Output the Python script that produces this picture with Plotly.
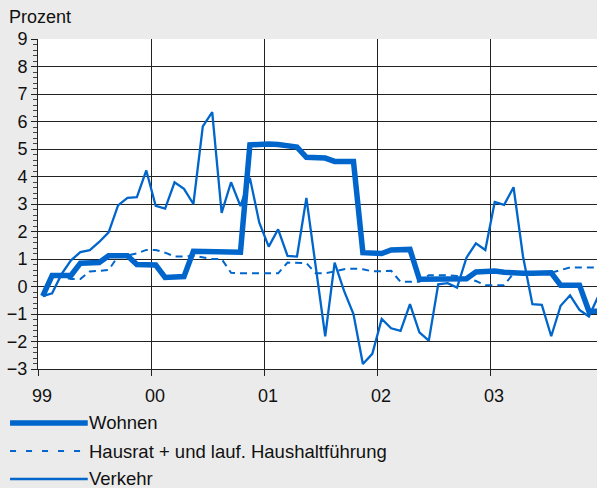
import plotly.graph_objects as go

# Monthly values, Jan 1999 - Dec 2003 (Prozent)
months = [i + 0.5 for i in range(60)]

wohnen = [-0.35, 0.4, 0.4, 0.4, 0.85, 0.85, 0.87, 1.12, 1.13, 1.12,
          0.8, 0.8, 0.78, 0.33, 0.33, 0.36, 1.28, 1.27, 1.26, 1.29,
          1.25, 1.25, 5.15, 5.17, 5.18, 5.16, 5.1, 5.07, 4.7, 4.7,
          4.67, 4.55, 4.55, 4.55, 1.23, 1.22, 1.2, 1.33, 1.35, 1.35,
          0.26, 0.26, 0.26, 0.26, 0.26, 0.28, 0.53, 0.55, 0.56, 0.52,
          0.48, 0.48, 0.48, 0.5, 0.5, 0.05, 0.05, 0.05, -0.9, -0.9]

hausrat = [-0.3, 0.35, 0.35, 0.27, 0.27, 0.55, 0.57, 0.6, 1.1, 1.13,
           1.2, 1.33, 1.33, 1.23, 1.09, 1.09, 1.12, 1.05, 1.0, 1.0,
           0.5, 0.48, 0.48, 0.48, 0.48, 0.48, 0.87, 0.87, 0.85, 0.48,
           0.48, 0.55, 0.63, 0.65, 0.63, 0.55, 0.57, 0.57, 0.17, 0.17,
           0.17, 0.41, 0.41, 0.41, 0.38, 0.3, 0.2, 0.05, 0.05, 0.05,
           0.48, 0.48, 0.48, 0.5, 0.5, 0.6, 0.69, 0.69, 0.69, 0.69]

verkehr = [-0.35, -0.25, 0.45, 0.95, 1.25, 1.32, 1.62, 1.97, 2.95, 3.22,
           3.25, 4.22, 2.93, 2.83, 3.79, 3.55, 3.0, 5.82, 6.34, 2.68,
           3.79, 2.92, 3.95, 2.32, 1.45, 2.08, 1.11, 1.09, 3.22, 0.7,
           -1.81, 0.87, -0.16, -1.0, -2.82, -2.45, -1.18, -1.52, -1.61, -0.64,
           -1.67, -1.97, 0.08, 0.12, -0.04, 1.05, 1.57, 1.33, 3.07, 2.97,
           3.61, 1.1, -0.64, -0.67, -1.81, -0.7, -0.32, -0.85, -1.09, -0.35]

year_ticks = [0, 12, 24, 36, 48]
year_labels = ["99", "00", "01", "02", "03"]
y_ticks = list(range(-3, 10))

names = ["Wohnen", "Hausrat + und lauf. Haushaltführung", "Verkehr"]
BLUE = "#0066CC"
FONT = "Liberation Sans, Arial, sans-serif"

fig = go.Figure()
fig.add_trace(go.Scatter(x=months, y=wohnen, mode="lines", name=names[0],
                         line=dict(color=BLUE, width=5.5)))
fig.add_trace(go.Scatter(x=months, y=hausrat, mode="lines", name=names[1],
                         line=dict(color=BLUE, width=2, dash="7px,5px")))
fig.add_trace(go.Scatter(x=months, y=verkehr, mode="lines", name=names[2],
                         line=dict(color=BLUE, width=2.3)))

# manual legend below the plot
leg_y = [-0.1636, -0.2485, -0.3333]
styles = [dict(width=5.5), dict(width=2, dash="6px,10px"), dict(width=2.3)]
for ly, st, nm in zip(leg_y, styles, names):
    fig.add_shape(type="line", xref="paper", yref="paper",
                  x0=-0.05, x1=0.089, y0=ly, y1=ly,
                  line=dict(color=BLUE, **st))
    fig.add_annotation(xref="paper", yref="paper", x=0.087, y=ly,
                       text=nm, showarrow=False, xanchor="left", yanchor="middle",
                       font=dict(size=18.5, color="#111111", family=FONT))

fig.add_annotation(xref="paper", yref="paper", x=-0.056, y=1.03,
                   text="Prozent", showarrow=False, xanchor="left", yanchor="bottom",
                   font=dict(size=18, color="#111111", family=FONT))

fig.update_layout(
    width=597, height=488,
    margin=dict(l=38, r=0, t=39, b=119),
    paper_bgcolor="#EBEBEB", plot_bgcolor="#FFFFFF",
    showlegend=False,
    font=dict(family=FONT, size=18, color="#111111"),
)
fig.update_xaxes(range=[0, 59.36], tickvals=year_ticks, ticktext=year_labels,
                 showgrid=True, gridcolor="#222222", gridwidth=1,
                 showline=True, linecolor="#222222", linewidth=1,
                 ticks="outside", ticklen=6, tickcolor="#222222",
                 ticklabelshift=4, ticklabelstandoff=4,
                 zeroline=False, fixedrange=True)
fig.update_yaxes(range=[-3, 9], tickvals=y_ticks,
                 showgrid=True, gridcolor="#222222", gridwidth=1,
                 showline=True, linecolor="#222222", linewidth=1,
                 ticks="outside", ticklen=6, tickcolor="#222222",
                 minor=dict(dtick=0.2, ticks="outside", ticklen=4,
                            tickcolor="#444444", showgrid=False),
                 zeroline=False, fixedrange=True)

fig.write_html("out.html", config={"displayModeBar": False},
               post_script="document.body.style.margin='0';document.body.style.overflow='hidden';")
